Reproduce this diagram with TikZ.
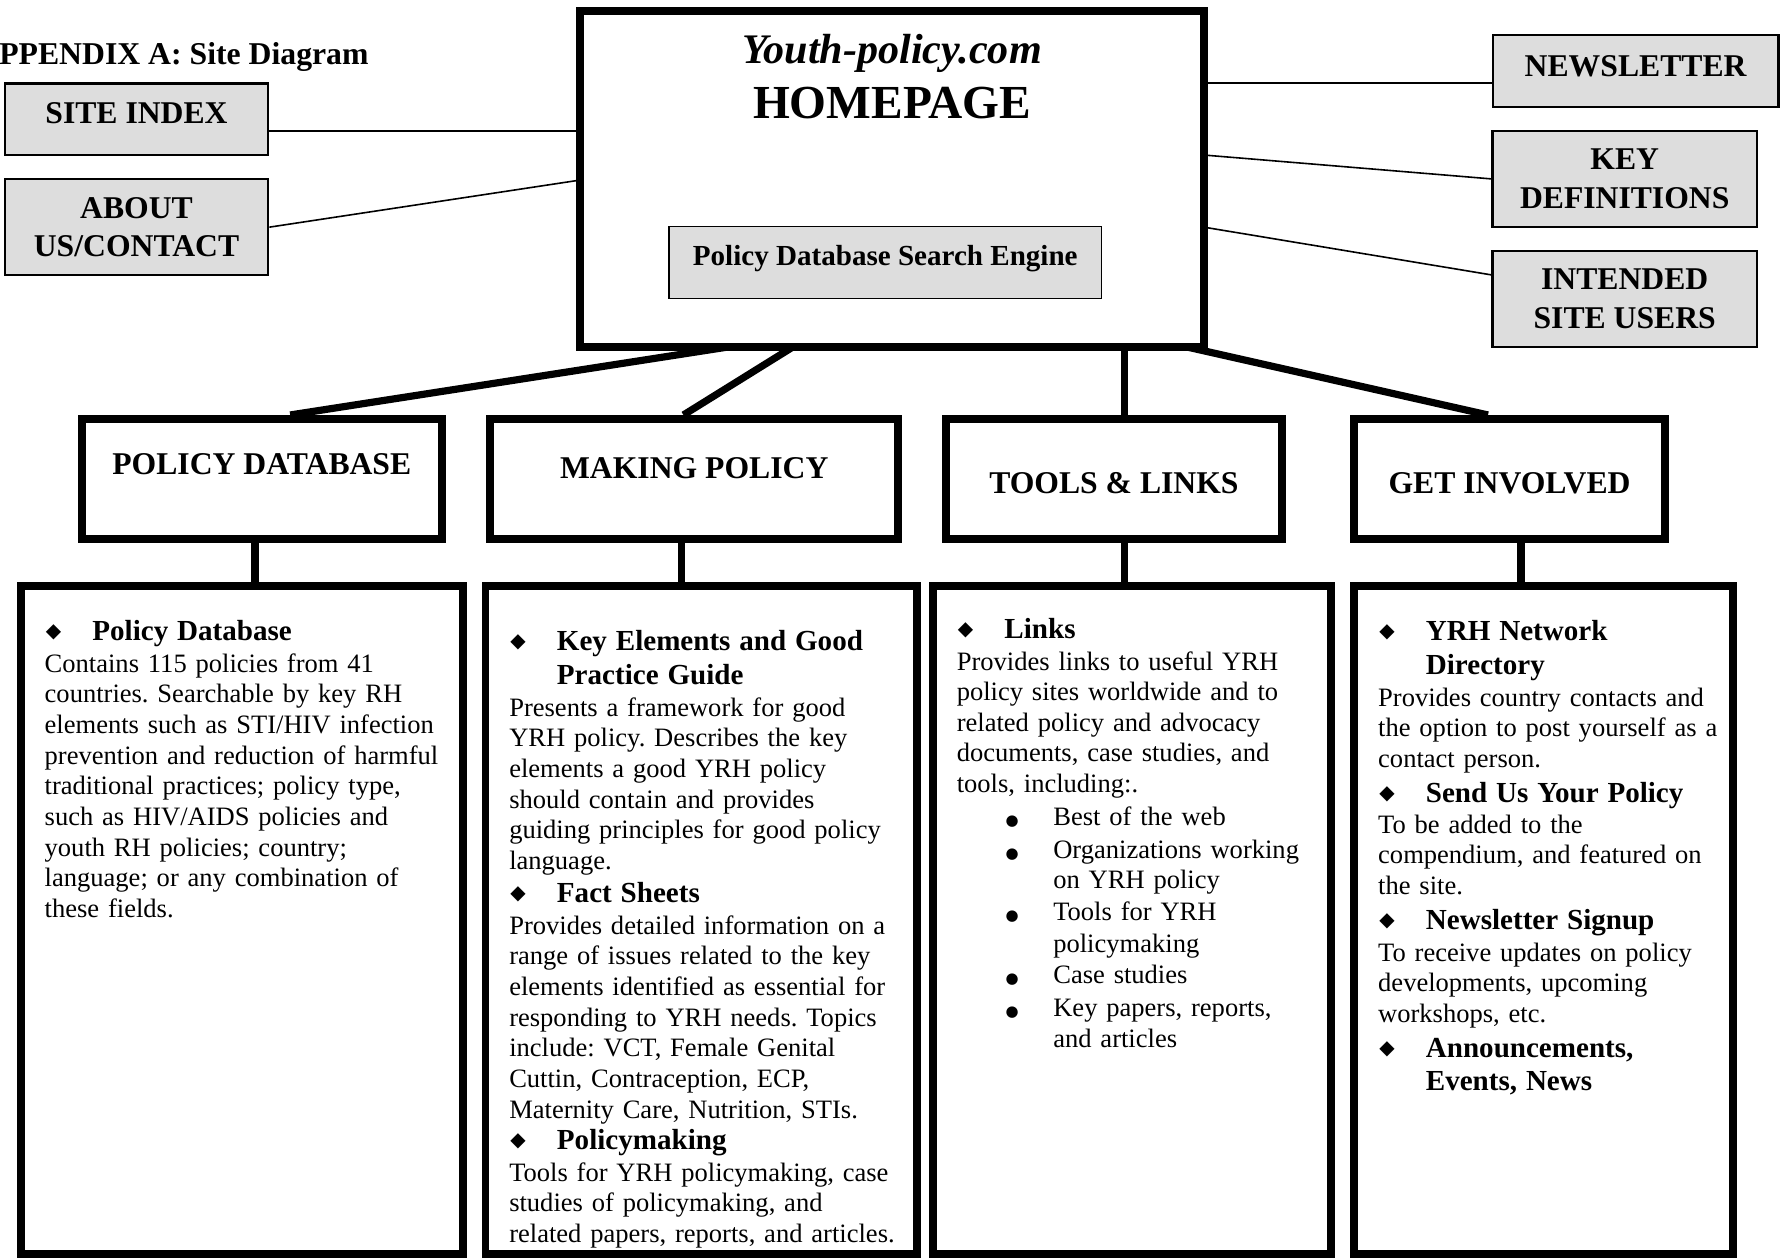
\documentclass[tikz,border=0pt]{standalone}
\usepackage{fontspec}
\setmainfont{Liberation Serif}
\newfontfamily\dejavu{DejaVu Sans}
\frenchspacing

\definecolor{boxgray}{RGB}{221,221,221}

% fonts
\newcommand{\bodyfnt}{\fontsize{13.3}{15.36}\selectfont}
\newcommand{\headfnt}{\fontsize{14.57}{15.36}\selectfont\bfseries}
\newcommand{\lblfnt}{\fontsize{15.87}{19.2}\selectfont\bfseries}

% bullets in the content boxes
\newcommand{\dia}{{\dejavu\fontsize{10}{10}\selectfont\raisebox{1.5pt}{◆}}}
\newcommand{\rdot}{{\dejavu\fontsize{7.5}{7.5}\selectfont ●}}
\newcommand{\bhead}[1]{\makebox[0.84cm][l]{\hspace{0.02cm}\dia}{\headfnt #1}}
\newcommand{\hcont}[1]{\hspace*{0.84cm}{\headfnt #1}}
\newcommand{\bitem}[1]{\hspace*{0.86cm}\makebox[0.84cm][l]{\rdot}#1}
\newcommand{\icont}[1]{\hspace*{1.7cm}#1}

\begin{document}
\begin{tikzpicture}[x=0.02cm, y=-0.02cm,
    graybox/.style={draw, fill=boxgray, line width=1.1pt, inner sep=0pt, align=center, font=\lblfnt},
    catbox/.style={draw, line width=4pt, inner sep=0pt},
    infotext/.style={anchor=base west, inner sep=0pt, align=left, font=\bodyfnt},
    thinlink/.style={line width=0.8pt},
    thicklink/.style={line width=3.6pt}]

    \useasboundingbox[fill=white] (0,0) rectangle (1568,1108);

    % title
    \node[anchor=base west, inner sep=0pt, font=\fontsize{15.9}{18}\selectfont\bfseries] (title) at (-1,57) {PPENDIX A: Site Diagram};

    % homepage
    \node[catbox, minimum width=10.98cm, minimum height=5.92cm] (home) at (785.5,157.5) {};
    \node[anchor=base, text width=10cm, align=center, inner sep=0pt, font=\fontsize{23.75}{27.5}\selectfont\bfseries] (hometitle) at (785.5,55.7)
        {{\fontsize{21.1}{27.5}\selectfont\itshape Youth-policy.com}\\HOMEPAGE};
    \node[graybox, line width=0.7pt, font=\headfnt, minimum width=7.62cm, minimum height=1.27cm, text depth=0.27cm] (search) at (779.4,231.3) {Policy Database Search Engine};

    % side pages
    \node[graybox, minimum width=4.64cm, minimum height=1.26cm, text depth=0.23cm] (siteidx) at (120.2,105) {SITE INDEX};
    \node[graybox, minimum width=4.64cm, minimum height=1.69cm] (about) at (120.2,200) {ABOUT\\US/CONTACT};
    \node[graybox, minimum width=5.03cm, minimum height=1.26cm, text depth=0.17cm] (news) at (1440,62.4) {NEWSLETTER};
    \node[graybox, minimum width=4.66cm, minimum height=1.69cm] (keydef) at (1430.4,157.5) {KEY\\DEFINITIONS};
    \node[graybox, minimum width=4.66cm, minimum height=1.69cm] (users) at (1430.4,263) {INTENDED\\SITE USERS};

    % sections
    \node[catbox, minimum width=6.33cm, minimum height=2.11cm] (pdb) at (230.5,421.6) {};
    \node[catbox, minimum width=7.19cm, minimum height=2.11cm] (mkp) at (611.2,421.6) {};
    \node[catbox, minimum width=5.92cm, minimum height=2.11cm] (tls) at (980.7,421.6) {};
    \node[catbox, minimum width=5.48cm, minimum height=2.11cm] (gin) at (1329,421.6) {};

    \node[anchor=base, inner sep=0pt, font=\lblfnt] (pdbtxt) at (230.5,418) {POLICY DATABASE};
    \node[anchor=base, inner sep=0pt, font=\lblfnt] (mkptxt) at (611.2,421) {MAKING POLICY};
    \node[anchor=base, inner sep=0pt, font=\lblfnt] (tlstxt) at (980.7,434.3) {TOOLS \& LINKS};
    \node[anchor=base, inner sep=0pt, font=\lblfnt] (gintxt) at (1329,434.3) {GET INVOLVED};

    % content boxes
    \node[catbox, minimum width=7.78cm, minimum height=11.76cm] (info1) at (213,810) {};
    \node[catbox, minimum width=7.6cm, minimum height=11.76cm] (info2) at (617.4,810) {};
    \node[catbox, minimum width=7cm, minimum height=11.76cm] (info3) at (996.5,810) {};
    \node[catbox, minimum width=6.68cm, minimum height=11.76cm] (info4) at (1359,810) {};

    \node[infotext, text width=8cm] (info1txt) at (39,564) {%
        \bhead{Policy Database}\\[0.5pt]
        Contains 115 policies from 41\\
        countries. Searchable by key RH\\
        elements such as STI/HIV infection\\
        prevention and reduction of harmful\\
        traditional practices; policy type,\\
        such as HIV/AIDS policies and\\
        youth RH policies; country;\\
        language; or any combination of\\
        these fields.};

    \node[infotext, text width=8cm] (info2txt) at (448,573) {%
        \bhead{Key Elements and Good}\\[1.6pt]
        \hcont{Practice Guide}\\[0.5pt]
        Presents a framework for good\\
        YRH policy. Describes the key\\
        elements a good YRH policy\\
        should contain and provides\\
        guiding principles for good policy\\
        language.\\[1.1pt]
        \bhead{Fact Sheets}\\[0.5pt]
        Provides detailed information on a\\
        range of issues related to the key\\
        elements identified as essential for\\
        responding to YRH needs. Topics\\
        include: VCT, Female Genital\\
        Cuttin, Contraception, ECP,\\
        Maternity Care, Nutrition, STIs.\\[0.5pt]
        \bhead{Policymaking}\\[0.5pt]
        Tools for YRH policymaking, case\\
        studies of policymaking, and\\
        related papers, reports, and articles.};

    \node[infotext, text width=7.5cm] (info3txt) at (842,562) {%
        \bhead{Links}\\[0.5pt]
        Provides links to useful YRH\\
        policy sites worldwide and to\\
        related policy and advocacy\\
        documents, case studies, and\\
        tools, including:.\\[1.1pt]
        \bitem{Best of the web}\\[1.1pt]
        \bitem{Organizations working}\\
        \icont{on YRH policy}\\[0.5pt]
        \bitem{Tools for YRH}\\[0.5pt]
        \icont{policymaking}\\[0.5pt]
        \bitem{Case studies}\\[1.1pt]
        \bitem{Key papers, reports,}\\
        \icont{and articles}};

    \node[infotext, text width=7cm] (info4txt) at (1213,564) {%
        \bhead{YRH Network}\\[1.6pt]
        \hcont{Directory}\\[0.5pt]
        Provides country contacts and\\
        the option to post yourself as a\\
        contact person.\\[2.2pt]
        \bhead{Send Us Your Policy}\\
        To be added to the\\
        compendium, and featured on\\
        the site.\\[2.2pt]
        \bhead{Newsletter Signup}\\[0.5pt]
        To receive updates on policy\\
        developments, upcoming\\
        workshops, etc.\\[2.2pt]
        \bhead{Announcements,}\\[1.1pt]
        \hcont{Events, News}};

    % points on the homepage border
    \coordinate (hSite) at (511,115.3);
    \coordinate (hAbout) at (511,158.5);
    \coordinate (hNews) at (1060,73);
    \coordinate (hKey) at (1060,136.5);
    \coordinate (hUsers) at (1060,200);
    \coordinate (hPdb) at (641,305.5);
    \coordinate (hMkp) at (698,305.5);
    \coordinate (hTls) at (990,305.5);
    \coordinate (hGin) at (1045,305.5);

    % thin links
    \draw[thinlink] (siteidx.east |- hSite) -- (hSite);
    \draw[thinlink] (about.east) -- (hAbout);
    \draw[thinlink] (hNews) -- (hNews -| news.west);
    \draw[thinlink] (hKey) -- (keydef.west);
    \draw[thinlink] (hUsers) -- ([yshift=0.42cm]users.west);

    % homepage to sections
    \draw[thicklink] (hPdb) -- ([xshift=0.5cm]pdb.north);
    \draw[thicklink] (hMkp) -- ([xshift=-0.19cm]mkp.north);
    \draw[thicklink] (hTls) -- (hTls |- tls.north);
    \draw[thicklink] (hGin) -- ([xshift=-0.38cm]gin.north);

    % sections to content boxes
    \coordinate (pdbLow) at ([xshift=-0.12cm]pdb.south);
    \coordinate (mkpLow) at ([xshift=-0.22cm]mkp.south);
    \coordinate (tlsLow) at ([xshift=0.19cm]tls.south);
    \coordinate (ginLow) at ([xshift=0.2cm]gin.south);
    \draw[thicklink] (pdbLow) -- (pdbLow |- info1.north);
    \draw[thicklink] (mkpLow) -- (mkpLow |- info2.north);
    \draw[thicklink] (tlsLow) -- (tlsLow |- info3.north);
    \draw[thicklink] (ginLow) -- (ginLow |- info4.north);
\end{tikzpicture}
\end{document}
